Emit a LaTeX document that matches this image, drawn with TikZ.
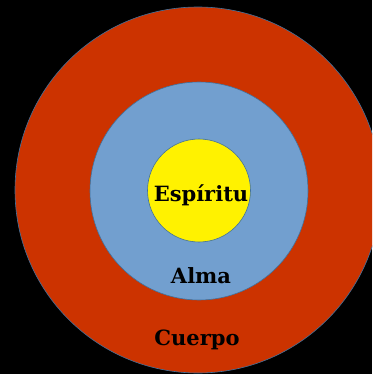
\documentclass[tikz,border=0pt]{standalone}
\usepackage{fontspec}
\setmainfont{DejaVu Serif}
\definecolor{cuerpored}{HTML}{CC3300}
\definecolor{almablue}{HTML}{729FCF}
\definecolor{ringline}{HTML}{41719C}
\tikzset{
  ring/.style={circle, draw=ringline, line width=0.6pt, inner sep=0pt},
  lbl/.style={font=\fontsize{21}{24}\selectfont\bfseries, text=black, inner sep=0pt, anchor=base}
}
\begin{document}
\begin{tikzpicture}[x=1pt,y=-1pt]
\useasboundingbox (0,0) rectangle (372,374);
\fill[black] (0,0) rectangle (372,374);
\clip (0,0) rectangle (372,374);
% three nested circles
\node[ring, fill=cuerpored, minimum size=366pt] (cuerpo) at (198,190) {};
\node[ring, fill=almablue, minimum size=218pt] (alma) at (199,191) {};
\node[ring, fill=yellow, minimum size=103pt] (espiritu) at (199,190.5) {};
% labels
\node[lbl] (tespiritu) at (201,201) {Espíritu};
\node[lbl] (talma) at (201,283.5) {Alma};
\node[lbl] (tcuerpo) at (197,345) {Cuerpo};
\end{tikzpicture}
\end{document}
